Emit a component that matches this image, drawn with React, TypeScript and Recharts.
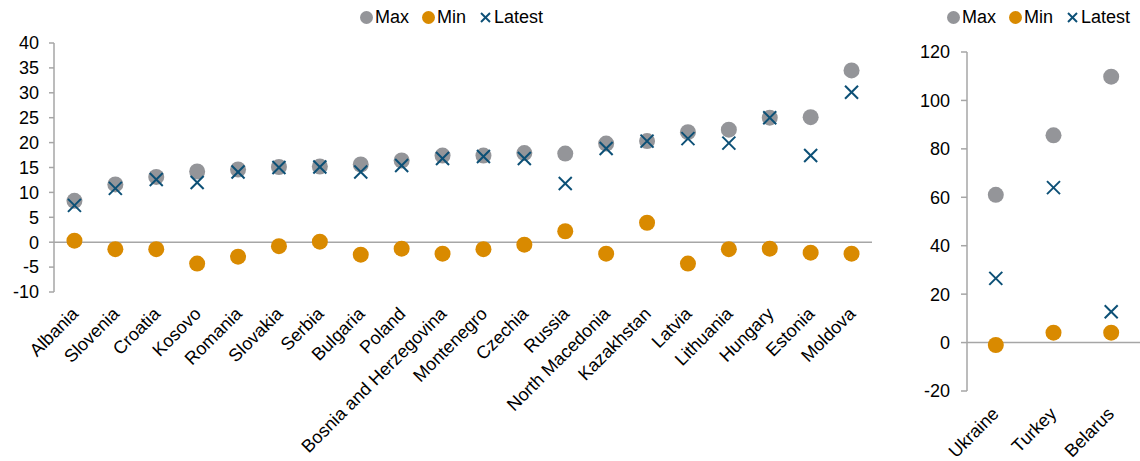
import React from 'react';
import { ComposedChart, Scatter, XAxis, YAxis, ReferenceLine } from 'recharts';

// Main group of countries
const countries = [
  'Albania', 'Slovenia', 'Croatia', 'Kosovo', 'Romania', 'Slovakia', 'Serbia', 'Bulgaria',
  'Poland', 'Bosnia and Herzegovina', 'Montenegro', 'Czechia', 'Russia', 'North Macedonia',
  'Kazakhstan', 'Latvia', 'Lithuania', 'Hungary', 'Estonia', 'Moldova',
];
const maxValues = [8.3, 11.6, 13.1, 14.2, 14.6, 15.1, 15.2, 15.6, 16.4, 17.4, 17.4, 17.9, 17.8, 19.8, 20.3, 22.1, 22.6, 25.0, 25.1, 34.5];
const minValues = [0.3, -1.4, -1.4, -4.3, -2.9, -0.8, 0.1, -2.5, -1.3, -2.3, -1.4, -0.5, 2.2, -2.3, 3.9, -4.3, -1.4, -1.3, -2.1, -2.3];
const latestValues = [7.4, 10.8, 12.6, 12.0, 14.1, 15.0, 15.1, 14.1, 15.4, 16.8, 17.2, 16.8, 11.8, 18.8, 20.3, 20.8, 19.9, 25.0, 17.4, 30.1];
const mainTicks = [-10, -5, 0, 5, 10, 15, 20, 25, 30, 35, 40];

// High-inflation group
const outliers = ['Ukraine', 'Turkey', 'Belarus'];
const outlierMax = [61, 85.6, 109.8];
const outlierMin = [-1.0, 4.1, 4.1];
const outlierLatest = [26.5, 64, 12.7];
const outlierTicks = [-20, 0, 20, 40, 60, 80, 100, 120];

const GREY = '#949599';
const ORANGE = '#D98A00';
const NAVY = '#0C5076';
const AXIS = '#A6A6A6';
const FONT = '"Liberation Sans", Arial, sans-serif';

const mainData = countries.map((name, i) => ({ name, max: maxValues[i], min: minValues[i], latest: latestValues[i] }));
const outlierData = outliers.map((name, i) => ({ name, max: outlierMax[i], min: outlierMin[i], latest: outlierLatest[i] }));

const Dot = (color: string) => (props: any) => {
  const { cx, cy } = props;
  if (cx == null || cy == null) return <g />;
  return <circle cx={cx} cy={cy} r={8} fill={color} />;
};

const Cross = (props: any) => {
  const { cx, cy } = props;
  if (cx == null || cy == null) return <g />;
  const s = 6.5;
  return (
    <g stroke={NAVY} strokeWidth={2}>
      <line x1={cx - s} y1={cy - s} x2={cx + s} y2={cy + s} />
      <line x1={cx - s} y1={cy + s} x2={cx + s} y2={cy - s} />
    </g>
  );
};

const AngledTick = (dx: number, dy: number) => (props: any) => {
  const { x, y, payload } = props;
  const ax = x + dx;
  const ay = y + dy;
  return (
    <text x={ax} y={ay} transform={`rotate(-45, ${ax}, ${ay})`} textAnchor="end" fontSize={18} fontFamily={FONT} fill="#000">
      {payload.value}
    </text>
  );
};

const Legend = ({ left, top }: { left: number; top: number }) => (
  <div style={{ position: 'absolute', left, top, display: 'flex', alignItems: 'center', fontFamily: FONT, fontSize: 18, color: '#000', lineHeight: '20px' }}>
    <span style={{ width: 13, height: 13, borderRadius: 7, background: GREY, marginRight: 2 }} />
    <span style={{ marginRight: 13 }}>Max</span>
    <span style={{ width: 13, height: 13, borderRadius: 7, background: ORANGE, marginRight: 2 }} />
    <span style={{ marginRight: 13 }}>Min</span>
    <svg width={13} height={13} style={{ marginRight: 2 }}>
      <g stroke={NAVY} strokeWidth={2}>
        <line x1={2} y1={2} x2={11} y2={11} />
        <line x1={2} y1={11} x2={11} y2={2} />
      </g>
    </svg>
    <span>Latest</span>
  </div>
);

const yTick = { fontSize: 18, fontFamily: FONT, fill: '#000' };

export default function App() {
  return (
    <div style={{ position: 'fixed', left: 0, top: 0, width: 1140, height: 461, background: '#fff' }}>
      <Legend left={360} top={7} />
      <Legend left={947} top={7} />

      <div style={{ position: 'absolute', left: 0, top: 0 }}>
        <ComposedChart width={880} height={461} data={mainData} margin={{ top: 43, right: 8, bottom: 0, left: 0 }}>
          <XAxis
            dataKey="name"
            type="category"
            interval={0}
            height={169}
            padding={{ left: 20.45, right: 20.45 }}
            axisLine={false}
            tickLine={false}
            tickSize={0}
            tick={AngledTick(5, 21)}
          />
          <YAxis
            type="number"
            domain={[-10, 40]}
            ticks={mainTicks}
            interval={0}
            width={54}
            axisLine={{ stroke: AXIS, strokeWidth: 1.5 }}
            tickLine={{ stroke: AXIS, strokeWidth: 1.5 }}
            tickSize={5}
            tickMargin={10}
            tick={yTick}
          />
          <ReferenceLine y={0} stroke={AXIS} strokeWidth={1.5} />
          <Scatter dataKey="max" shape={Dot(GREY)} isAnimationActive={false} />
          <Scatter dataKey="min" shape={Dot(ORANGE)} isAnimationActive={false} />
          <Scatter dataKey="latest" shape={Cross} isAnimationActive={false} />
        </ComposedChart>
      </div>

      <div style={{ position: 'absolute', left: 880, top: 0 }}>
        <ComposedChart width={260} height={461} data={outlierData} margin={{ top: 52, right: 0, bottom: 0, left: 0 }}>
          <XAxis
            dataKey="name"
            type="category"
            interval={0}
            height={70}
            padding={{ left: 28.8, right: 28.8 }}
            axisLine={false}
            tickLine={false}
            tickSize={0}
            tick={AngledTick(4, 22)}
          />
          <YAxis
            type="number"
            domain={[-20, 120]}
            ticks={outlierTicks}
            interval={0}
            width={87}
            axisLine={{ stroke: AXIS, strokeWidth: 1.5 }}
            tickLine={{ stroke: AXIS, strokeWidth: 1.5 }}
            tickSize={6}
            tickMargin={11}
            tick={yTick}
          />
          <ReferenceLine y={0} stroke={AXIS} strokeWidth={1.5} />
          <Scatter dataKey="max" shape={Dot(GREY)} isAnimationActive={false} />
          <Scatter dataKey="min" shape={Dot(ORANGE)} isAnimationActive={false} />
          <Scatter dataKey="latest" shape={Cross} isAnimationActive={false} />
        </ComposedChart>
      </div>
    </div>
  );
}
